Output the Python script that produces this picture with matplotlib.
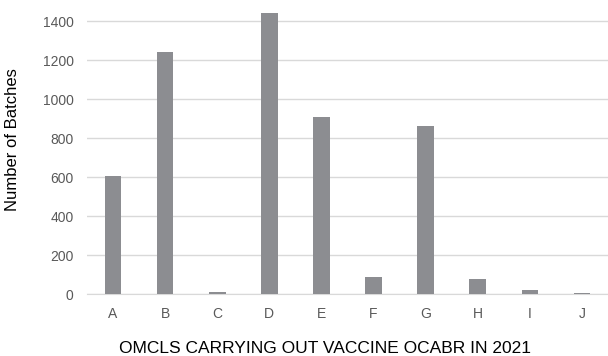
import matplotlib
matplotlib.use("Agg")
import matplotlib.pyplot as plt

plt.rcParams['font.family'] = ['Liberation Sans', 'DejaVu Sans']

categories = ['A', 'B', 'C', 'D', 'E', 'F', 'G', 'H', 'I', 'J']
batches = [606, 1244, 12, 1444, 909, 89, 861, 79, 24, 5]
yticks = [0, 200, 400, 600, 800, 1000, 1200, 1400]

fig = plt.figure(figsize=(6.08, 3.56), dpi=100)
ax = fig.add_axes([0.143, 0.173, 0.857, 0.80])

ax.bar(range(len(categories)), batches, width=0.32, color='#8c8d91', zorder=3)

ax.set_xlim(-0.5, len(categories) - 0.5)
ax.set_ylim(0, 1460)
ax.set_yticks(yticks)
ax.set_xticks(range(len(categories)))
ax.set_xticklabels(categories)

ax.grid(axis='y', color='#d9d9d9', linewidth=1, zorder=0)
for side in ['top', 'right', 'left']:
    ax.spines[side].set_visible(False)
ax.spines['bottom'].set_color('#d9d9d9')
ax.tick_params(axis='both', length=0, labelsize=10, labelcolor='#595959')
ax.tick_params(axis='y', pad=9.5)
ax.tick_params(axis='x', pad=9)

ax.set_ylabel('Number of Batches', fontsize=12)
ax.yaxis.set_label_coords(-0.1286, 0.542)

# x title sits a bit left of the axes centre in the original
fig.text(0.534, 0.009, 'OMCLS CARRYING OUT VACCINE OCABR IN 2021',
         fontsize=12.5, ha='center', va='baseline')

fig.savefig('out.png', dpi=100)
